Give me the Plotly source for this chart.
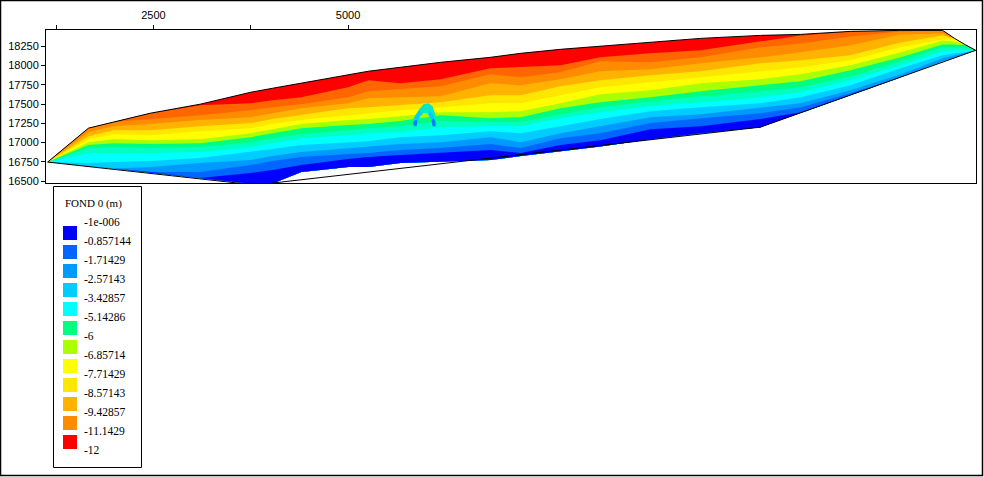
import plotly.graph_objects as go

stations = [1140,1665,1985,2460,3100,3750,4030,4400,5000,5260,5670,6190,6830,7220,7730,8240,8885,9530,10300,10815,11455,12100,12640,12793,12934,13065]
edge_top = [16746,17187,17265,17381,17498,17653,17705,17770,17874,17926,17977,18042,18107,18159,18211,18250,18301,18353,18392,18405,18444,18457,18457,18353,18269,18198]
b1 = [16746,17187,17265,17381,17485,17511,17550,17589,17718,17809,17770,17822,17964,17977,18003,18107,18159,18198,18314,18392,18444,18457,18457,18353,18269,18198]
b2 = [16746,17187,17265,17304,17355,17420,17459,17498,17589,17666,17692,17731,17887,17848,17913,18055,18042,18107,18237,18288,18379,18444,18457,18353,18269,18198]
b3 = [16746,17135,17213,17239,17291,17329,17381,17446,17511,17576,17589,17602,17770,17744,17822,17926,17951,18029,18107,18172,18263,18405,18418,18353,18269,18198]
b4 = [16746,17083,17161,17161,17213,17252,17304,17355,17446,17459,17485,17524,17615,17615,17731,17809,17874,17926,18029,18068,18133,18301,18392,18353,18269,18198]
b5 = [16746,17044,17109,17096,17148,17187,17239,17291,17355,17381,17420,17459,17511,17511,17615,17718,17783,17848,17926,17977,18068,18237,18340,18340,18269,18198]
b6 = [16746,17005,17044,17031,17044,17122,17174,17239,17291,17304,17342,17394,17394,17407,17511,17628,17679,17770,17822,17887,18003,18172,18327,18314,18269,18198]
b7 = [16746,16967,16992,16980,16992,17070,17122,17187,17226,17239,17278,17355,17316,17329,17446,17524,17589,17666,17744,17796,17939,18107,18275,18275,18263,18198]
b8 = [16746,16928,16941,16928,16941,17005,17057,17109,17161,17187,17213,17278,17265,17265,17368,17459,17537,17602,17666,17718,17861,18055,18237,18237,18230,18198]
b9 = [16746,16863,16863,16863,16876,16941,16992,17057,17096,17122,17135,17200,17213,17213,17316,17394,17472,17524,17589,17653,17809,18003,18185,18198,18198,18198]
b10 = [16746,16733,16746,16759,16798,16876,16915,16967,17005,17018,17070,17096,17148,17122,17213,17304,17407,17459,17511,17589,17744,17964,18133,18159,18172,18198]
b11 = [16746,16694,16662,16681,16733,16772,16824,16876,16928,16941,16980,17005,17070,17005,17122,17213,17329,17368,17459,17511,17679,17887,18094,18133,18159,18198]
b12 = [16746,16694,16662,16617,16617,16707,16759,16811,16850,16863,16902,16928,16980,16928,17057,17122,17252,17316,17381,17459,17640,17848,18055,18107,18153,18198]
b13 = [16746,16694,16662,16617,16539,16604,16643,16707,16785,16811,16837,16863,16902,16863,16967,17031,17174,17213,17304,17394,17615,17848,18055,18101,18153,18198]
edge_bottom = [16746,16694,16662,16617,16539,16465,16468,16617,16681,16681,16733,16746,16772,16824,16889,16948,17044,17122,17200,17381,17615,17848,18055,18101,18153,18198]

band_colors = ["#ff0000","#ff6600","#ff8c00","#ffb300","#ffe600","#ffff00","#aaff00","#00ff80","#00ffc0","#00ffff","#00ccff","#0099ff","#0066ff","#0000ff"]

outline_low_x = [10300,3811,1140]
outline_low_y = [17200,16448,16746]

arch_x = [5828,5841,5905,5970,6034,6085,6124,6137,6098,6072,6034,5970,5931,5892,5880,5828]
arch_y = [17200,17316,17420,17498,17511,17472,17355,17213,17200,17316,17381,17381,17342,17265,17200,17200]
arch_leg_l_x = [5841,5867,5918,5944,5905,5880]
arch_leg_l_y = [17239,17342,17420,17381,17316,17239]
arch_leg_r_x = [6124,6098,6047,6021,6059,6085]
arch_leg_r_y = [17239,17342,17420,17381,17316,17239]
arch_foot_l_x = [5841,5880,5892,5880,5841]
arch_foot_l_y = [17226,17213,17278,17291,17278]
arch_foot_r_x = [6085,6124,6124,6098,6072]
arch_foot_r_y = [17213,17213,17265,17316,17291]

x_tick_vals = [1250,2500,3750,5000]
x_tick_text = ["","2500","","5000"]
y_tick_vals = [16500,16750,17000,17250,17500,17750,18000,18250]

legend_title = "FOND 0 (m)"
legend_labels = ["-1e-006","-0.857144","-1.71429","-2.57143","-3.42857","-5.14286","-6","-6.85714","-7.71429","-8.57143","-9.42857","-11.1429","-12"]
legend_colors = ["#0000ff","#0066ff","#0099ff","#00ccff","#00ffff","#00ff80","#aaff00","#ffff00","#ffe600","#ffb300","#ff8c00","#ff0000"]

W, H = 984, 477
L, R, T, B = 46, 976, 30, 183
px = lambda v: (v - L) / (R - L)
py = lambda v: (B - v) / (B - T)

fig = go.Figure()
bounds = [edge_top,b1,b2,b3,b4,b5,b6,b7,b8,b9,b10,b11,b12,b13]
for upper, color in zip(bounds, band_colors):
    fig.add_trace(go.Scatter(x=stations + stations[::-1], y=upper + edge_bottom[::-1], mode="lines",
                             fill="toself", fillcolor=color, line=dict(width=0), hoverinfo="skip"))
for ax, ay, color in [(arch_x,arch_y,"#00e8c8"),(arch_leg_l_x,arch_leg_l_y,"#00ccff"),(arch_leg_r_x,arch_leg_r_y,"#00ccff"),
                      (arch_foot_l_x,arch_foot_l_y,"#0080ff"),(arch_foot_r_x,arch_foot_r_y,"#0080ff")]:
    fig.add_trace(go.Scatter(x=ax, y=ay, mode="lines", fill="toself", fillcolor=color,
                             line=dict(width=0), hoverinfo="skip"))
fig.add_trace(go.Scatter(x=stations + outline_low_x, y=edge_top + outline_low_y, mode="lines",
                         line=dict(color="black", width=1), hoverinfo="skip"))

shapes = [dict(type="rect", xref="paper", yref="paper", x0=px(0.5), x1=px(982.5), y0=py(475.5), y1=py(0.5),
               line=dict(color="black", width=1.5)),
          dict(type="rect", xref="paper", yref="paper", x0=px(53.5), x1=px(141.5), y0=py(467.5), y1=py(186.5),
               line=dict(color="black", width=1))]
annotations = [dict(text=legend_title, x=px(63), y=py(203), xref="paper", yref="paper", xanchor="left", yanchor="middle",
                    showarrow=False, font=dict(family="Liberation Serif", size=11, color="black"))]
for i, label in enumerate(legend_labels):
    annotations.append(dict(text=label, x=px(82), y=py(222 + 19 * i), xref="paper", yref="paper", xanchor="left",
                            yanchor="middle", showarrow=False,
                            font=dict(family="Liberation Serif", size=11.5, color="black")))
for i, color in enumerate(legend_colors):
    shapes.append(dict(type="rect", xref="paper", yref="paper", x0=px(63), x1=px(77), y0=py(240 + 19 * i), y1=py(226 + 19 * i),
                       fillcolor=color, line=dict(width=0)))

fig.update_layout(
    width=W, height=H, margin=dict(l=L, r=W - R, t=T, b=H - B, pad=0, autoexpand=False),
    paper_bgcolor="white", plot_bgcolor="white", showlegend=False, shapes=shapes, annotations=annotations,
    font=dict(family="Liberation Sans", size=11, color="black"),
    xaxis=dict(side="top", range=[1119,13069], tickvals=x_tick_vals, ticktext=x_tick_text, ticks="outside", ticklen=4,
               ticklabelstandoff=2, tickcolor="black", showgrid=False, zeroline=False, showline=True, linecolor="black", linewidth=1, mirror=True),
    yaxis=dict(range=[16474,18462], tickvals=y_tick_vals, ticks="outside", ticklen=4, tickformat="d",
               tickcolor="black", showgrid=False, zeroline=False, showline=True, linecolor="black", linewidth=1, mirror=True),
)
fig.write_html("out.html", config=dict(displayModeBar=False), post_script="document.body.style.margin='0';")
